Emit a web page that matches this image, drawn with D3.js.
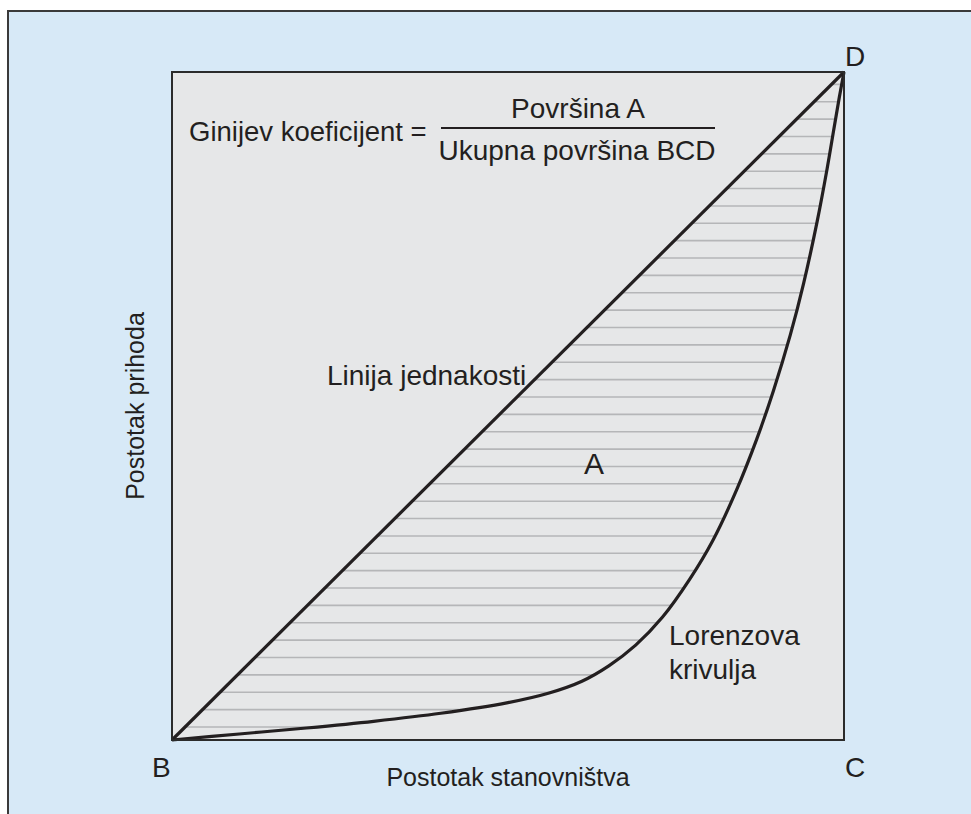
<!DOCTYPE html>
<html>
<head>
<meta charset="utf-8">
<script src="https://cdn.jsdelivr.net/npm/d3@7"></script>
<style>
  body { margin: 0; background: #fff; }
  text { font-family: "Liberation Sans", Arial, sans-serif; fill: #231f20; }
</style>
</head>
<body>
<div id="chart"></div>
<script>
// Lorenz curve, percent of population (x) vs percent of income (y)
var lorenzX = [0, 10, 20, 30, 40, 50, 56, 61, 65, 69, 73, 77, 80.5, 84, 87, 89.5, 92, 94, 96, 97.5, 98.5, 99.3, 100];
var lorenzY = [0, 0.9, 1.8, 2.8, 4.0, 5.6, 7.0, 8.8, 11.1, 14.2, 18.4, 24.0, 29.9, 37.4, 45.0, 52.3, 60.6, 68.4, 77.6, 85.6, 91.5, 96.2, 100];
// line of equality
var equalX = [0, 100];
var equalY = [0, 100];
// corner labels
var cornerNames = ["B", "C", "D"];
var cornerX = [0, 100, 100];
var cornerY = [0, 0, 100];
// hatching inside area A
var hatchFirst = 1.95, hatchStep = 2.6;

var W = 971, H = 814;
var svg = d3.select("#chart").append("svg")
  .attr("width", W).attr("height", H);

var x = d3.scaleLinear().domain([0, 100]).range([172, 844]);
var y = d3.scaleLinear().domain([0, 100]).range([740, 72]);

// outer panel
svg.append("rect")
  .attr("x", 8).attr("y", 11).attr("width", W).attr("height", H)
  .attr("fill", "#d7e9f7").attr("stroke", "#3a3a3a").attr("stroke-width", 2);

// square
svg.append("rect")
  .attr("x", x(0)).attr("y", y(100))
  .attr("width", x(100) - x(0)).attr("height", y(0) - y(100))
  .attr("fill", "#e6e7e8");

var pts = lorenzX.map(function (d, i) { return { x: d, y: lorenzY[i] }; });
var smooth = d3.curveCatmullRom.alpha(0.5);

var area = d3.area()
  .x(function (d) { return x(d.x); })
  .y0(function (d) { return y(d.y); })
  .y1(function (d) { return y(d.x); })
  .curve(smooth);

svg.append("clipPath").attr("id", "areaA")
  .append("path").attr("d", area(pts));

svg.append("g").attr("clip-path", "url(#areaA)")
  .selectAll("line")
  .data(d3.range(hatchFirst, 99, hatchStep))
  .enter().append("line")
  .attr("x1", x(0)).attr("x2", x(100))
  .attr("y1", function (d) { return y(d); })
  .attr("y2", function (d) { return y(d); })
  .attr("stroke", "#b5b6b8").attr("stroke-width", 1.6);

// line of equality
var line = d3.line()
  .x(function (d) { return x(d.x); })
  .y(function (d) { return y(d.y); });

svg.append("path")
  .attr("d", line(equalX.map(function (d, i) { return { x: d, y: equalY[i] }; })))
  .attr("fill", "none").attr("stroke", "#231f20").attr("stroke-width", 3.2);

// Lorenz curve
svg.append("path")
  .attr("d", line.curve(smooth)(pts))
  .attr("fill", "none").attr("stroke", "#231f20").attr("stroke-width", 3.2);

// square border
svg.append("rect")
  .attr("x", x(0)).attr("y", y(100))
  .attr("width", x(100) - x(0)).attr("height", y(0) - y(100))
  .attr("fill", "none").attr("stroke", "#2b2b2b").attr("stroke-width", 2);

// corner letters
svg.selectAll("text.corner")
  .data(cornerNames)
  .enter().append("text")
  .attr("class", "corner")
  .attr("x", function (d, i) { return cornerX[i] === 0 ? x(0) - 20 : x(100) + 1; })
  .attr("y", function (d, i) { return cornerY[i] === 0 ? 777 : y(100) - 6; })
  .attr("font-size", 28)
  .text(function (d) { return d; });

// axis titles
svg.append("text")
  .attr("x", (x(0) + x(100)) / 2).attr("y", 786)
  .attr("text-anchor", "middle").attr("font-size", 25)
  .text("Postotak stanovništva");

svg.append("text")
  .attr("transform", "translate(144," + ((y(0) + y(100)) / 2) + ") rotate(-90)")
  .attr("text-anchor", "middle").attr("font-size", 25)
  .text("Postotak prihoda");

// formula
svg.append("text")
  .attr("x", 189).attr("y", 141).attr("font-size", 27.5)
  .text("Ginijev koeficijent =");
svg.append("line")
  .attr("x1", 441).attr("x2", 715).attr("y1", 128).attr("y2", 128)
  .attr("stroke", "#231f20").attr("stroke-width", 2);
svg.append("text")
  .attr("x", 578).attr("y", 118).attr("text-anchor", "middle").attr("font-size", 28)
  .text("Površina A");
svg.append("text")
  .attr("x", 577).attr("y", 160).attr("text-anchor", "middle").attr("font-size", 28)
  .text("Ukupna površina BCD");

// annotations
svg.append("text")
  .attr("x", 327).attr("y", 385).attr("font-size", 28)
  .text("Linija jednakosti");
svg.append("text")
  .attr("x", 584).attr("y", 474).attr("font-size", 30)
  .text("A");
svg.append("text")
  .attr("x", 669).attr("y", 645).attr("font-size", 28)
  .text("Lorenzova");
svg.append("text")
  .attr("x", 669).attr("y", 679).attr("font-size", 28)
  .text("krivulja");
</script>
</body>
</html>
